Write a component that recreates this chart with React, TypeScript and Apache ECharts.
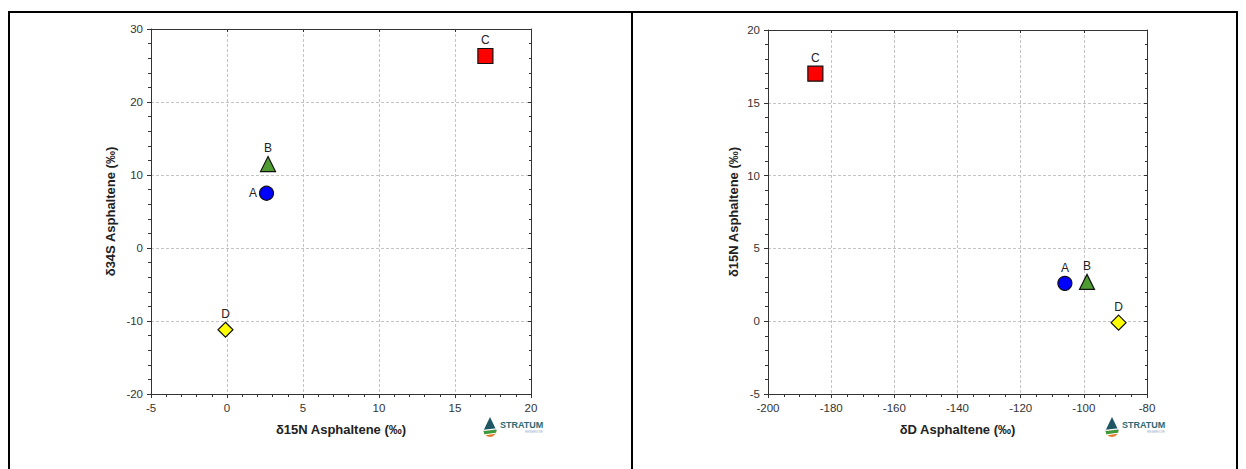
import React, { useEffect, useRef } from "react";
import * as echarts from "echarts";

// ---- Data ----
const samples = ["A", "B", "C", "D"];
const d15N = [2.6, 2.7, 17.0, -0.1];
const d34S = [7.5, 11.5, 26.3, -11.2];
const dD = [-106, -99, -185, -89];
const symbols = ["circle", "triangle", "rect", "diamond"];
const colors = ["#0000FF", "#4F9D32", "#FF0000", "#FFFF00"];
const symbolSizes = [14, 15, 15, 15];
const leftLabelPos = ["left", "top", "top", "top"];
const rightLabelPos = ["top", "top", "top", "top"];

const FONT = "Liberation Sans, Arial, sans-serif";

function makeAxes(gridIndex: number, xr: number[], yr: number[], xSplit: number, ySplit: number, xName: string, yName: string, yGap: number) {
  const baseLine = { show: true, lineStyle: { color: "#333", width: 1 } };
  const split = { show: true, lineStyle: { color: "#c4c4c4", type: [3, 2] as any, width: 1 } };
  const xAxes = [
    {
      type: "value", gridIndex, min: xr[0], max: xr[1], interval: xr[2],
      name: xName, nameLocation: "middle", nameGap: 29,
      nameTextStyle: { fontFamily: FONT, fontSize: 13, fontWeight: "bold", color: "#222" },
      axisLine: { ...baseLine, onZero: false },
      axisTick: { show: true, length: 4, lineStyle: { color: "#333" } },
      minorTick: { show: true, splitNumber: xSplit, length: 3, lineStyle: { color: "#333" } },
      splitLine: split,
      axisLabel: { fontFamily: FONT, fontSize: 11.5, color: "#333", margin: 8 },
    },
    {
      type: "value", gridIndex, position: "top", min: xr[0], max: xr[1], interval: xr[2],
      axisLine: { ...baseLine, onZero: false },
      axisTick: { show: true, inside: true, length: 3, lineStyle: { color: "#333" } },
      minorTick: { show: false },
      splitLine: { show: false },
      axisLabel: { show: false },
    },
  ];
  const yAxes = [
    {
      type: "value", gridIndex, min: yr[0], max: yr[1], interval: yr[2],
      name: yName, nameLocation: "middle", nameGap: yGap,
      nameTextStyle: { fontFamily: FONT, fontSize: 13, fontWeight: "bold", color: "#222" },
      axisLine: { ...baseLine, onZero: false },
      axisTick: { show: true, length: 4, lineStyle: { color: "#333" } },
      minorTick: { show: true, splitNumber: ySplit, length: 3, lineStyle: { color: "#333" } },
      splitLine: split,
      axisLabel: { fontFamily: FONT, fontSize: 11.5, color: "#333", margin: 8 },
    },
    {
      type: "value", gridIndex, position: "right", min: yr[0], max: yr[1], interval: yr[2],
      axisLine: { ...baseLine, onZero: false },
      axisTick: { show: true, inside: true, length: 3, lineStyle: { color: "#333" } },
      minorTick: { show: true, splitNumber: ySplit, length: 2, lineStyle: { color: "#333" } },
      splitLine: { show: false },
      axisLabel: { show: false },
    },
  ];
  return { xAxes, yAxes };
}

function makeSeries(xIndex: number, yIndex: number, xs: number[], ys: number[], labelPos: string[]) {
  return samples.map((s, i) => ({
    type: "scatter",
    xAxisIndex: xIndex,
    yAxisIndex: yIndex,
    symbol: symbols[i],
    symbolSize: symbolSizes[i],
    itemStyle: { color: colors[i], borderColor: "#111", borderWidth: 1.2, opacity: 1 },
    label: {
      show: true,
      formatter: s,
      position: labelPos[i],
      distance: 2,
      fontFamily: FONT,
      fontSize: 12,
      color: "#222",
    },
    data: [[xs[i], ys[i]]],
  }));
}

function makeLogo(x: number, y: number) {
  return {
    type: "group",
    x,
    y,
    silent: true,
    children: [
      { type: "polygon", shape: { points: [[7, 0], [0.5, 13.5], [13.5, 13.5]] }, style: { fill: "#1E5663" } },
      { type: "sector", shape: { cx: 7, cy: 13.5, r: 6.5, r0: 0, startAngle: 0, endAngle: Math.PI }, style: { fill: "#E27B2C" } },
      { type: "polygon", shape: { points: [[0.5, 14], [13.5, 12.5], [13, 16], [1.5, 17.5]] }, style: { fill: "#3C9A3A" } },
      { type: "polygon", shape: { points: [[0.5, 12.8], [13.5, 11.3], [13.5, 12.6], [0.5, 14.1]] }, style: { fill: "#ffffff" } },
      { type: "polygon", shape: { points: [[1.5, 17.3], [13, 15.8], [12.8, 16.8], [2, 18.3]] }, style: { fill: "#ffffff" } },
      {
        type: "text", x: 17, y: 3.5,
        style: { text: "STRATUM", fontFamily: FONT, fontSize: 9, fontWeight: "bold", fill: "#2C6A74" },
      },
      {
        type: "text", x: 42, y: 13,
        style: { text: "RESERVOIR", fontFamily: FONT, fontSize: 3, fill: "#9ab" },
      },
    ],
  };
}

export default function App() {
  const ref = useRef<HTMLDivElement>(null);
  useEffect(() => {
    document.body.style.margin = "0";
    if (!ref.current) return;
    const chart = echarts.init(ref.current, undefined, { renderer: "svg" });

    const L = makeAxes(0, [-5, 20, 5], [-20, 30, 10], 5, 5, "δ15N Asphaltene (‰)", "δ34S Asphaltene (‰)", 34);
    const R = makeAxes(1, [-200, -80, 20], [-5, 20, 5], 4, 5, "δD Asphaltene (‰)", "δ15N Asphaltene (‰)", 28);

    const borderStyle = { stroke: "#000", lineWidth: 2 };
    chart.setOption({
      animation: false,
      backgroundColor: "#ffffff",
      grid: [
        { left: 151, top: 29, width: 380, height: 365 },
        { left: 768, top: 30, width: 379, height: 364 },
      ],
      xAxis: [...L.xAxes, ...R.xAxes],
      yAxis: [...L.yAxes, ...R.yAxes],
      series: [
        ...makeSeries(0, 0, d15N, d34S, leftLabelPos),
        ...makeSeries(2, 2, dD, d15N, rightLabelPos),
      ],
      graphic: [
        { type: "line", shape: { x1: 8, y1: 12, x2: 1238, y2: 12 }, style: borderStyle, silent: true },
        { type: "line", shape: { x1: 9, y1: 11, x2: 9, y2: 469 }, style: borderStyle, silent: true },
        { type: "line", shape: { x1: 632, y1: 11, x2: 632, y2: 469 }, style: borderStyle, silent: true },
        { type: "line", shape: { x1: 1237, y1: 11, x2: 1237, y2: 469 }, style: borderStyle, silent: true },
        makeLogo(483, 417),
        makeLogo(1105, 417),
      ],
    });
    return () => chart.dispose();
  }, []);
  return <div ref={ref} style={{ width: 1246, height: 469 }} />;
}
